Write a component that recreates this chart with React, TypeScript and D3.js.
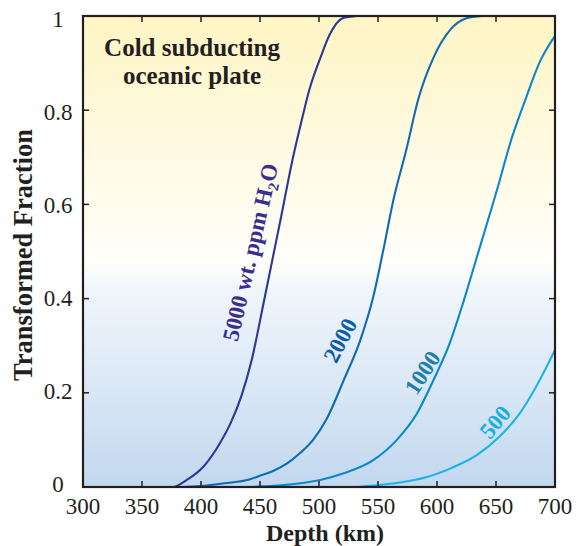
import React from 'react';
import * as d3 from 'd3';

// depth (km), transformed fraction
const depth5000 = [338, 376, 388, 402, 416, 425, 434.5, 443, 453, 468, 478, 485, 492, 501, 509, 520, 532];
const frac5000 = [0, 0, 0.015, 0.043, 0.093, 0.135, 0.195, 0.27, 0.39, 0.575, 0.7, 0.775, 0.845, 0.91, 0.96, 0.995, 1];

const depth2000 = [384, 399, 420, 441, 450, 462, 473, 484, 495, 506, 521, 535, 546, 554.5, 563, 574, 584, 598, 611, 625, 638];
const frac2000 = [0, 0.002, 0.008, 0.016, 0.024, 0.035, 0.05, 0.072, 0.1, 0.142, 0.227, 0.312, 0.404, 0.503, 0.609, 0.716, 0.822, 0.917, 0.97, 0.995, 1];

const depth1000 = [441, 470, 484, 501, 521, 546, 566, 583, 597, 610, 622, 634, 651, 663, 676, 687, 700];
const frac1000 = [0, 0.004, 0.008, 0.015, 0.029, 0.057, 0.1, 0.156, 0.227, 0.3, 0.39, 0.49, 0.632, 0.738, 0.83, 0.902, 0.958];

const depth500 = [533, 550, 570, 590, 612, 634, 653, 670, 684, 700];
const frac500 = [0, 0.004, 0.01, 0.02, 0.04, 0.068, 0.107, 0.156, 0.213, 0.291];

const xTicks = [300, 350, 400, 450, 500, 550, 600, 650, 700];
const yTicks = [0, 0.2, 0.4, 0.6, 0.8, 1];

const series = [
  { depth: depth5000, frac: frac5000, color: '#2d3796' },
  { depth: depth2000, frac: frac2000, color: '#0f6cb4' },
  { depth: depth1000, frac: frac1000, color: '#0a88c9' },
  { depth: depth500, frac: frac500, color: '#1ab4e8' },
];

const serif = '"Liberation Serif", "DejaVu Serif", serif';

export default function App() {
  const left = 83, right = 555, top = 16, bottom = 487;
  const x = d3.scaleLinear().domain([300, 700]).range([left, right]);
  const y = d3.scaleLinear().domain([0, 1]).range([bottom, top]);
  // the tick labels in the figure sit on a slightly tighter spacing than the ticks
  const yLabel = d3.scaleLinear().domain([0, 1]).range([492, 27]);

  const line = d3.line<[number, number]>()
    .x(d => x(d[0]))
    .y(d => y(d[1]))
    .curve(d3.curveMonotoneX);

  const tick = 6;

  return (
    <svg width={580} height={546} style={{ position: 'absolute', left: 0, top: 0 }}>
      <defs>
        <linearGradient id="bg" x1="0" y1="0" x2="0" y2="1">
          <stop offset="0" stopColor="#fff5c4" />
          <stop offset="0.52" stopColor="#fffefa" />
          <stop offset="0.58" stopColor="#f1f6fc" />
          <stop offset="1" stopColor="#c2d8ef" />
        </linearGradient>
        <clipPath id="plot">
          <rect x={left} y={top - 2} width={right - left} height={bottom - top + 2} />
        </clipPath>
      </defs>

      <rect x={left} y={top} width={right - left} height={bottom - top} fill="url(#bg)" />

      <g clipPath="url(#plot)">
        {series.map((s, i) => (
          <path
            key={i}
            d={line(s.depth.map((d, j) => [d, s.frac[j]] as [number, number])) || ''}
            fill="none"
            stroke={s.color}
            strokeWidth={2.1}
          />
        ))}
      </g>

      {/* ticks, drawn inward on all four sides */}
      {xTicks.slice(1, -1).map(t => (
        <g key={'x' + t} stroke="#231f20" strokeWidth={1.5}>
          <line x1={x(t)} x2={x(t)} y1={bottom} y2={bottom - tick} />
          <line x1={x(t)} x2={x(t)} y1={top} y2={top + tick} />
        </g>
      ))}
      {yTicks.slice(1, -1).map(t => (
        <g key={'y' + t} stroke="#231f20" strokeWidth={1.5}>
          <line x1={left} x2={left + tick} y1={y(t)} y2={y(t)} />
          <line x1={right} x2={right - tick} y1={y(t)} y2={y(t)} />
        </g>
      ))}

      <rect x={left} y={top} width={right - left} height={bottom - top} fill="none" stroke="#231f20" strokeWidth={2.2} />

      <g fontFamily={serif} fontSize={23} fill="#231f20">
        {xTicks.map(t => (
          <text key={t} x={x(t)} y={514} textAnchor="middle">{t}</text>
        ))}
        {yTicks.map(t => (
          <text key={t} x={58} y={yLabel(t)} textAnchor="middle">{t}</text>
        ))}
      </g>

      <text x={325} y={540.5} textAnchor="middle" fontFamily={serif} fontWeight="bold" fontSize={24} fill="#231f20">
        Depth (km)
      </text>
      <text
        transform="translate(32,255) rotate(-90)"
        textAnchor="middle"
        fontFamily={serif}
        fontWeight="bold"
        fontSize={26.5}
        fill="#231f20"
      >
        Transformed Fraction
      </text>

      <g fontFamily={serif} fontWeight="bold" fontSize={25} fill="#231f20" textAnchor="middle">
        <text x={192} y={55.5}>Cold subducting</text>
        <text x={192} y={83.5}>oceanic plate</text>
      </g>

      <g fontFamily={serif} fontWeight="bold" fontSize={23}>
        <text transform="translate(258,254) rotate(-77)" textAnchor="middle" fill="#3b2f8e">
          5000 wt. ppm H<tspan fontSize={15} dy={5}>2</tspan><tspan dy={-5}>O</tspan>
        </text>
        <text transform="translate(347,344) rotate(-62)" textAnchor="middle" fill="#0b5fa9">2000</text>
        <text transform="translate(429,377) rotate(-57)" textAnchor="middle" fill="#1a80aa">1000</text>
        <text transform="translate(501,427) rotate(-50)" textAnchor="middle" fill="#1aaee2">500</text>
      </g>
    </svg>
  );
}
